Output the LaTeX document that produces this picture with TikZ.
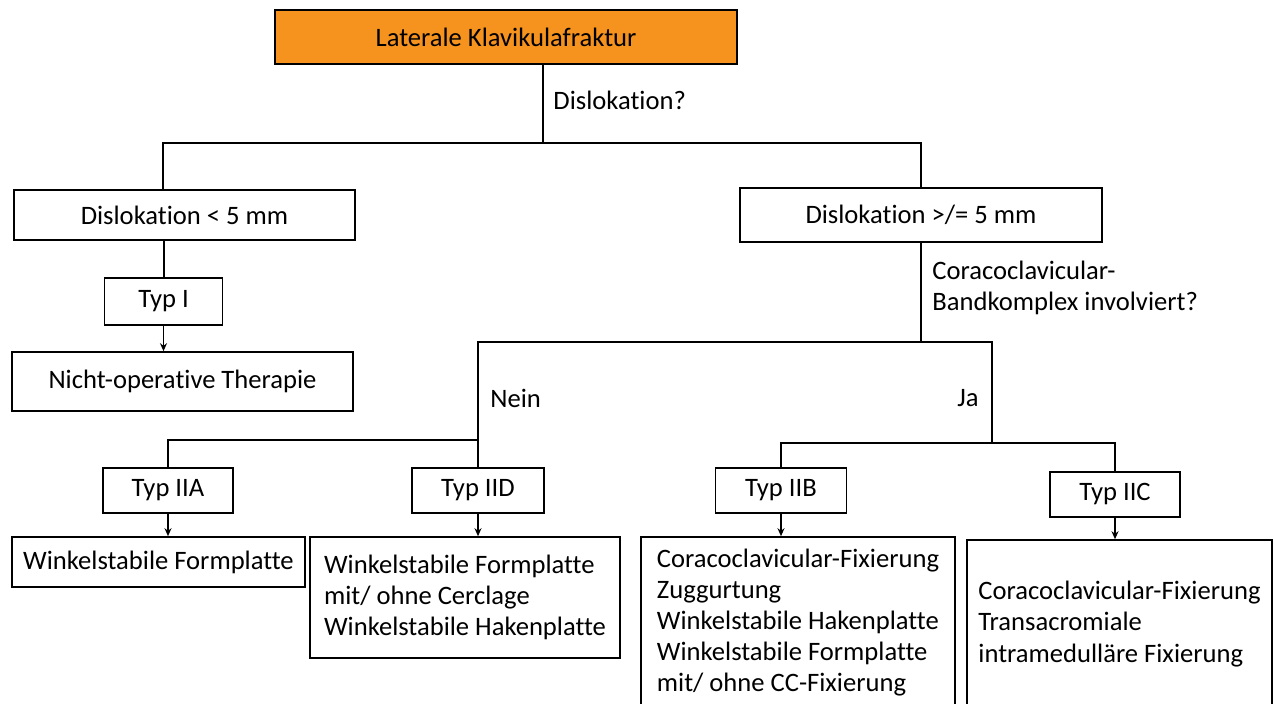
\documentclass[tikz,border=0pt]{standalone}
\usepackage{fontspec}
\setmainfont{Carlito}[Ligatures=NoCommon]
\usetikzlibrary{arrows.meta}

\definecolor{klorange}{RGB}{246,146,30}

\tikzset{
  box/.style={draw, line width=0.8pt, inner sep=0pt, font=\fontsize{13.3}{15.6}\selectfont},
  conn/.style={line width=1pt},
  arr/.style={line width=0.8pt, -{Stealth[length=4pt,width=3.5pt]}},
  lbl/.style={inner sep=0pt, font=\fontsize{13.3}{15.6}\selectfont}
}

\begin{document}
\begin{tikzpicture}[x=0.5pt,y=-0.5pt]

    \useasboundingbox (0,0) rectangle (1274,704);

    % boxes
    \node[box, fill=klorange, minimum width=231pt, minimum height=27pt] (top) at (506,37) {Laterale Klavikulafraktur};

    \node[box, minimum width=170.5pt, minimum height=25pt] (dl) at (184.5,215) {Dislokation < 5 mm};
    \node[box, minimum width=181pt, minimum height=27pt] (dg) at (921,215) {Dislokation >/= 5 mm};

    \node[box, minimum width=59pt, minimum height=23.5pt] (t1) at (163.5,301.5) {Typ I};
    \node[box, minimum width=170.5pt, minimum height=29.5pt] (nt) at (182.5,381.5) {Nicht-operative Therapie};

    \node[box, minimum width=65pt, minimum height=22.5pt] (t2a) at (168,490.5) {Typ IIA};
    \node[box, minimum width=66pt, minimum height=22.5pt] (t2d) at (478,490.5) {Typ IID};
    \node[box, minimum width=65.5pt, minimum height=22.5pt] (t2b) at (781,490.5) {Typ IIB};
    \node[box, minimum width=65pt, minimum height=22.5pt] (t2c) at (1115,494.5) {Typ IIC};

    \node[box, minimum width=146.5pt, minimum height=25pt] (r2a) at (158.5,562) {Winkelstabile Formplatte};
    \node[box, minimum width=155pt, minimum height=60.5pt, align=left] (r2d) at (465,597.5)
        {Winkelstabile Formplatte\\mit/ ohne Cerclage\\Winkelstabile Hakenplatte};
    % the last two run past the lower edge
    \node[box, minimum width=157pt, minimum height=85.5pt, align=left] (r2b) at (798,622.5)
        {Coracoclavicular-Fixierung\\Zuggurtung\\Winkelstabile Hakenplatte\\Winkelstabile Formplatte\\mit/ ohne CC-Fixierung};
    \node[box, minimum width=152.5pt, minimum height=84pt, align=left] (r2c) at (1119.5,624)
        {Coracoclavicular-Fixierung\\Transacromiale\\intramedulläre Fixierung};

    % labels
    \node[lbl, anchor=west] (qdis) at (553,100) {Dislokation?};
    \node[lbl, anchor=west, align=left] (qcc) at (932,288) {Coracoclavicular-\\Bandkomplex involviert?};
    \node[lbl, anchor=west] (nein) at (490,398) {Nein};
    \node[lbl, anchor=east] (ja) at (979,398) {Ja};

    % junctions
    \coordinate (s0) at (543,143);
    \coordinate (sl) at (163,143);
    \coordinate (sr) at (921,143);
    \coordinate (q2) at (921,342);
    \coordinate (sn) at (478,342);
    \coordinate (sj) at (992,342);
    \coordinate (bn) at (168,440);
    \coordinate (bj) at (992,443);

    % connectors
    \draw[conn] (s0 |- top.south) -- (s0);
    \draw[conn] (dl.north -| sl) -- (sl) -- (sr) -- (dg.north);
    \draw[conn] (dl.south -| t1) -- (t1.north);
    \draw[arr] (t1.south) -- (t1.south |- nt.north);

    \draw[conn] (dg.south) -- (q2);
    \draw[conn] (t2d.north) -- (sn) -- (sj) -- (bj);
    \draw[conn] (bn -| sn) -- (bn) -- (t2a.north);
    \draw[conn] (t2b.north) -- (t2b.north |- bj) -- (t2c.north |- bj) -- (t2c.north);

    \draw[arr] (t2a.south) -- (t2a.south |- r2a.north);
    \draw[arr] (t2d.south) -- (t2d.south |- r2d.north);
    \draw[arr] (t2b.south) -- (t2b.south |- r2b.north);
    \draw[arr] (t2c.south) -- (t2c.south |- r2c.north);

\end{tikzpicture}
\end{document}
